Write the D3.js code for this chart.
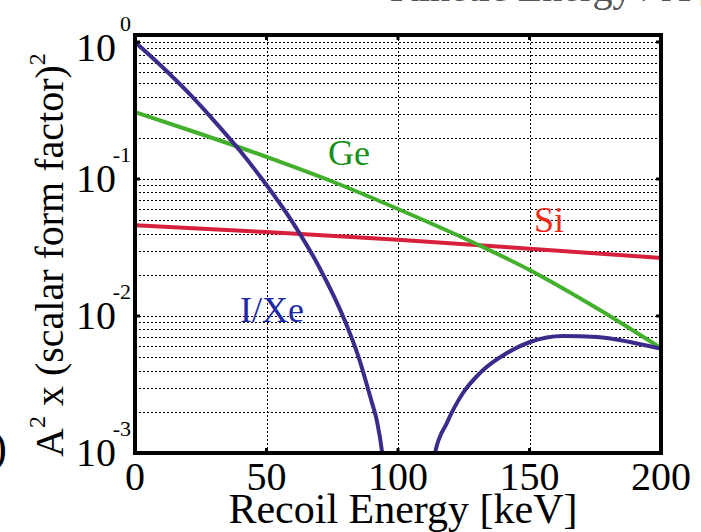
<!DOCTYPE html>
<html>
<head>
<meta charset="utf-8">
<script src="https://cdn.jsdelivr.net/npm/d3@7"></script>
<style>
  body { margin: 0; background: #fff; }
  svg { display: block; font-family: "Liberation Serif", "DejaVu Serif", serif; }
</style>
</head>
<body>
<svg id="chart" width="701" height="532"></svg>
<script>
"use strict";

// values
const xTicks = [0, 50, 100, 150, 200];
const yTicks = [1, 0.1, 0.01, 0.001];
const yTickExp = ["0", "-1", "-2", "-3"];

// I/Xe dips through zero between ~95 and ~113 keV (null = gap below the axis)
const xeEnergy = [0, 10, 20, 30, 40, 50, 60, 70, 80, 85, 90, 92, 94, 96, 104,
                  111, 114.1, 118.6, 124.7, 131.2, 141.4, 150.2, 162.7, 175.7, 188.2, 200];
const xeValue = [1.0, 0.668, 0.432, 0.267, 0.160, 0.0904, 0.0481, 0.0228, 0.00904, 0.00502, 0.00236, 0.00171, 0.001, 0.0004, null,
                 0.0004, 0.001, 0.00166, 0.00274, 0.00384, 0.00537, 0.00646, 0.00714, 0.00703, 0.00646, 0.00575];

const geEnergy = [0, 25, 50, 75, 100, 133, 150, 175, 200];
const geValue = [0.308, 0.213, 0.145, 0.0959, 0.0604, 0.0314, 0.0217, 0.0116, 0.00584];

const siEnergy = [0, 50, 100, 150, 200];
const siValue = [0.046, 0.041, 0.036, 0.031, 0.0265];

const labels = [
    {text: "Ge", e: 73.4, v: 0.126, color: "#169018"},
    {text: "Si", e: 151.7, v: 0.041, color: "#f02818"},
    {text: "I/Xe", e: 39.9, v: 0.00905, color: "#1c2aa6"}
];

const svg = d3.select("#chart");
const LEFT = 135, RIGHT = 661, TOP = 35, BOTTOM = 453;

let x = d3.scaleLinear().domain([0, 200]).range([LEFT, RIGHT]);
let y = d3.scaleLog().domain([1e-3, 1.125]).range([BOTTOM, TOP]);

svg.append("rect").attr("width", 701).attr("height", 532).attr("fill", "#fff");

svg.append("defs").append("clipPath").attr("id", "plot")
   .append("rect")
   .attr("x", LEFT).attr("y", TOP)
   .attr("width", RIGHT - LEFT).attr("height", BOTTOM - TOP);

// grid: every log minor step, majors on x
let gridY = y.ticks().filter(v => v > 1e-3 && v <= 1);
let grid = svg.append("g")
              .attr("stroke", "#000")
              .attr("stroke-width", 1)
              .attr("stroke-dasharray", "2,2");

grid.selectAll("line.h")
    .data(gridY)
    .join("line")
    .attr("class", "h")
    .attr("x1", LEFT).attr("x2", RIGHT)
    .attr("y1", d => Math.round(y(d)) + 0.5)
    .attr("y2", d => Math.round(y(d)) + 0.5);

grid.selectAll("line.v")
    .data(xTicks.slice(1, -1))
    .join("line")
    .attr("class", "v")
    .attr("y1", TOP).attr("y2", BOTTOM)
    .attr("x1", d => Math.round(x(d)) + 0.5)
    .attr("x2", d => Math.round(x(d)) + 0.5);

// curves
function series(es, vs)
{
    return es.map((e, i) => ({e: e, v: vs[i]}));
}

let line = d3.line()
             .defined(d => d.v != null)
             .x(d => x(d.e))
             .y(d => y(d.v))
             .curve(d3.curveMonotoneX);

let curves = svg.append("g").attr("clip-path", "url(#plot)")
                .attr("fill", "none")
                .attr("stroke-width", 4)
                .attr("stroke-linejoin", "round");

curves.append("path").datum(series(siEnergy, siValue)).attr("stroke", "#d6203c").attr("d", line);
curves.append("path").datum(series(geEnergy, geValue)).attr("stroke", "#42b02c").attr("d", line);
curves.append("path").datum(series(xeEnergy, xeValue)).attr("stroke", "#3d2b8c").attr("d", line);

// inward major ticks on all four sides
let ticks = svg.append("g").attr("stroke", "#000").attr("stroke-width", 3);
xTicks.slice(1, -1).forEach(t =>
{
    ticks.append("line").attr("x1", x(t)).attr("x2", x(t)).attr("y1", BOTTOM).attr("y2", BOTTOM - 5);
    ticks.append("line").attr("x1", x(t)).attr("x2", x(t)).attr("y1", TOP).attr("y2", TOP + 5);
});
yTicks.slice(0, -1).forEach(t =>
{
    ticks.append("line").attr("y1", y(t)).attr("y2", y(t)).attr("x1", LEFT).attr("x2", LEFT + 5);
    ticks.append("line").attr("y1", y(t)).attr("y2", y(t)).attr("x1", RIGHT).attr("x2", RIGHT - 5);
});

// frame
svg.append("rect")
   .attr("x", LEFT).attr("y", TOP)
   .attr("width", RIGHT - LEFT).attr("height", BOTTOM - TOP)
   .attr("fill", "none").attr("stroke", "#000").attr("stroke-width", 4);

// x tick labels
svg.append("g")
   .selectAll("text")
   .data(xTicks)
   .join("text")
   .attr("x", d => x(d))
   .attr("y", 490)
   .attr("text-anchor", "middle")
   .attr("font-size", 40)
   .text(d => d);

// y tick labels 10^n
let yl = svg.append("g").selectAll("g")
            .data(yTicks)
            .join("g")
            .attr("transform", d => "translate(0," + Math.max(y(d) + 13, TOP + 26) + ")");
yl.append("text")
  .attr("x", 116).attr("text-anchor", "end")
  .attr("font-size", 40)
  .text("10");
yl.append("text")
  .attr("x", 131).attr("y", -30).attr("text-anchor", "end")
  .attr("font-size", 22)
  .text((d, i) => yTickExp[i]);

// axis titles
svg.append("text")
   .attr("x", 403).attr("y", 523)
   .attr("text-anchor", "middle")
   .attr("font-size", 42)
   .text("Recoil Energy [keV]");

let yt = svg.append("text")
            .attr("transform", "translate(63,457) rotate(-90)")
            .attr("font-size", 40);
yt.append("tspan").text("A");
yt.append("tspan").attr("font-size", 24).attr("dy", -18).text("2");
yt.append("tspan").attr("dy", 18).text(" x (scalar form factor)");
yt.append("tspan").attr("font-size", 24).attr("dy", -18).text("2");

// series labels
svg.append("g")
   .selectAll("text")
   .data(labels)
   .join("text")
   .attr("x", d => x(d.e))
   .attr("y", d => y(d.v))
   .attr("font-size", 36)
   .attr("fill", d => d.color)
   .text(d => d.text);

// clipped remains of neighbouring panels
svg.append("text").attr("x", 7).attr("y", 462).attr("text-anchor", "end")
   .attr("font-size", 44).text("(b)");
svg.append("text").attr("x", 390).attr("y", 0.5)
   .attr("font-size", 40).attr("fill", "#555").text("Kinetic Energy / A [keV]");
</script>
</body>
</html>
